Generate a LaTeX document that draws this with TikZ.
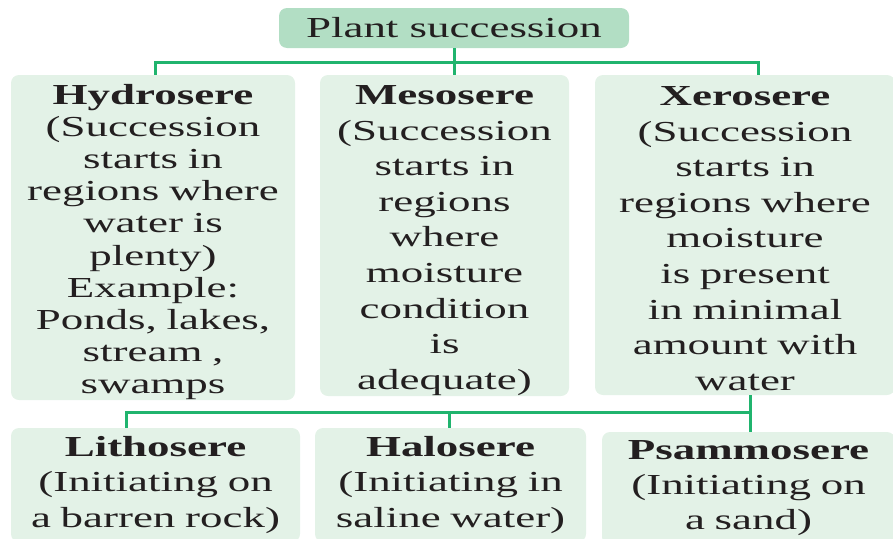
\documentclass[tikz,border=0pt]{standalone}
\usepackage{fontspec}
\setmainfont{Liberation Serif}[FakeStretch=1.55]
\definecolor{headfill}{RGB}{178,222,196}
\definecolor{serefill}{RGB}{227,242,231}
\definecolor{linkgreen}{RGB}{32,180,110}
\definecolor{ink}{RGB}{35,31,32}

\tikzset{
    head/.style={rounded corners=8pt, fill=headfill, inner sep=0, text=ink, font=\fontsize{29}{32}\selectfont},
    sere/.style={rounded corners=8pt, fill=serefill, inner sep=0, align=center, text=ink},
    link/.style={draw=linkgreen, line width=3pt}
    }

\begin{document}
\begin{tikzpicture}[x=1pt, y=-1pt]
                \useasboundingbox (0,0) rectangle (893,538);
                % The Top
                \node(top)[head, minimum width=350pt, minimum height=40pt] at (454,28) {Plant succession};
                % The Seres
                \node(hydro)[sere, minimum width=284pt, minimum height=325pt, text width=280pt,
                    font=\fontsize{29}{32.2}\selectfont] at (153,237.5)
                    {\rule{0pt}{29pt}\textbf{Hydrosere}\\(Succession\\starts in\\regions where\\water is\\plenty)\\Example:\\Ponds, lakes,\\stream ,\\swamps};
                \node(meso)[sere, minimum width=249pt, minimum height=321pt, text width=245pt,
                    font=\fontsize{29}{35.6}\selectfont] at (444.5,235.5)
                    {\rule{0pt}{29pt}\textbf{Mesosere}\\(Succession\\starts in\\regions\\where\\moisture\\condition\\is\\adequate)};
                \node(xero)[sere, minimum width=300pt, minimum height=320pt, text width=296pt,
                    font=\fontsize{29}{35.6}\selectfont] at (745,235)
                    {\rule{0pt}{26pt}\textbf{Xerosere}\\(Succession\\starts in\\regions where\\moisture\\is present\\in minimal\\amount with\\water};
                % The Bottom
                \node(litho)[sere, minimum width=289pt, minimum height=114pt, text width=285pt,
                    font=\fontsize{29}{35.5}\selectfont] at (155.5,485)
                    {\textbf{Lithosere}\\(Initiating on\\a barren rock)};
                \node(halo)[sere, minimum width=271pt, minimum height=114pt, text width=267pt,
                    font=\fontsize{29}{35.5}\selectfont] at (450.5,485)
                    {\textbf{Halosere}\\(Initiating in\\saline water)};
                \node(psammo)[sere, minimum width=293pt, minimum height=113pt, text width=289pt,
                    font=\fontsize{29}{35}\selectfont] at (748.5,488.5)
                    {\textbf{Psammosere}\\(Initiating on\\a sand)};
                % The Links
                \coordinate(up) at (454,62);
                \coordinate(down) at (750,412);
                \draw[link] (top.south) -- (top.south |- meso.north);
                \draw[link] ([xshift=2pt]hydro.north) |- (up) -| ([xshift=13pt]xero.north);
                \draw[link] ([xshift=5pt]xero.south) -- ([xshift=1.5pt]psammo.north);
                \draw[link] ([xshift=-29pt]litho.north) |- (down);
                \draw[link] ([xshift=-1.5pt]halo.north) -- ([xshift=-1.5pt]halo.north |- down);
            \end{tikzpicture}
\end{document}
